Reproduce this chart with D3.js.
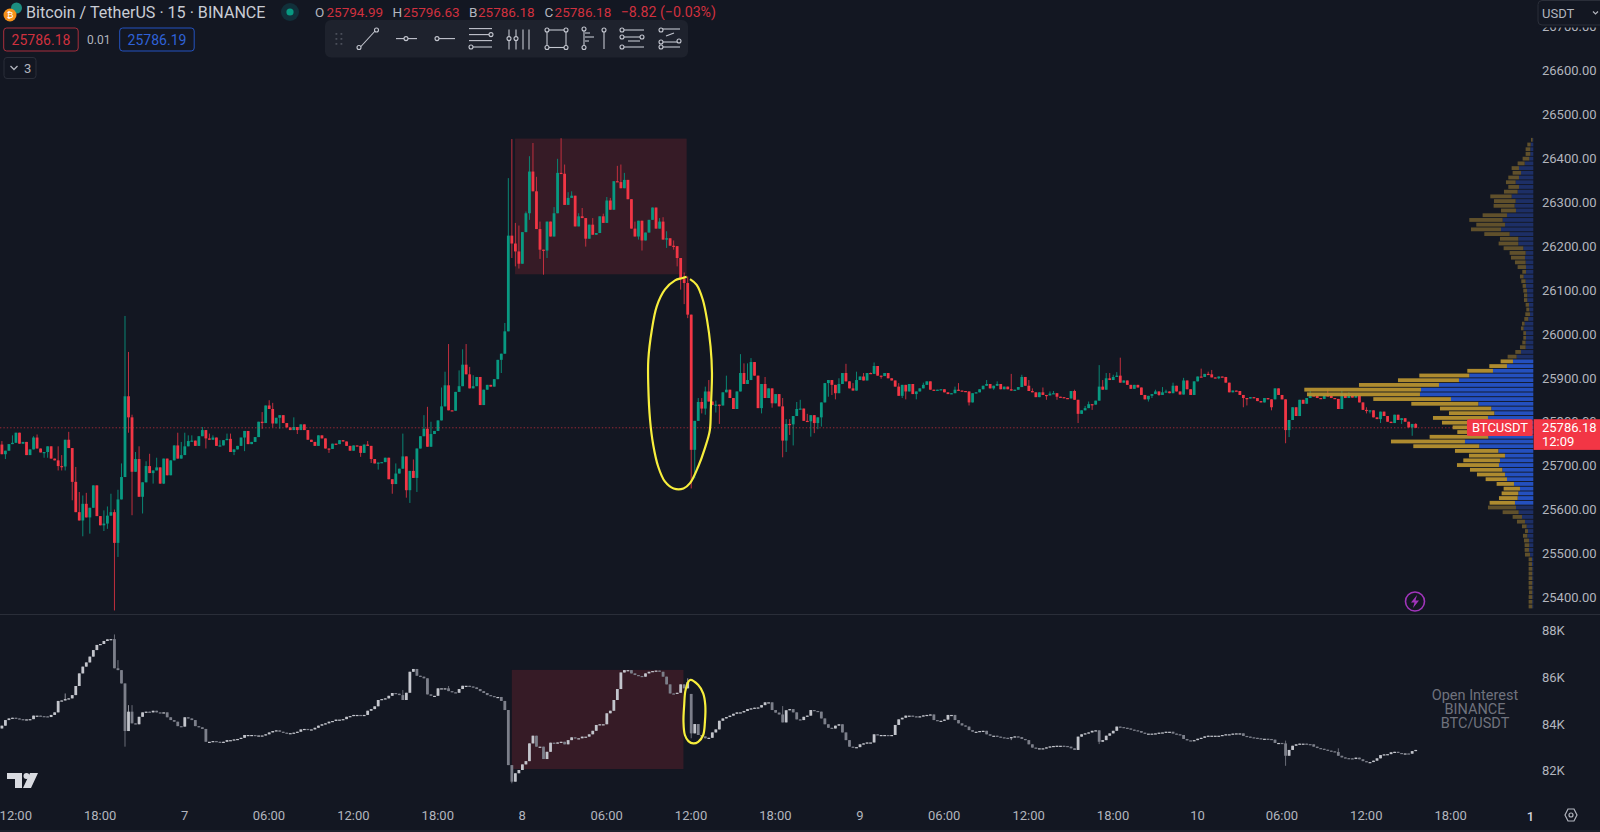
<!DOCTYPE html>
<html><head><meta charset="utf-8">
<script src="https://cdn.jsdelivr.net/npm/d3@7/dist/d3.min.js"></script>
<style>html,body{margin:0;padding:0;background:#131722;overflow:hidden}svg{display:block}text{font-family:Roboto,"Liberation Sans",sans-serif}</style>
</head><body><svg id="c" width="1600" height="832"></svg>
<script>
// ---------- price series (15m candles, open = previous close unless listed) ----------
const firstOpen = 25748;
const openGaps = [[362,25851]];
const closes = [
25726,25734,25749,25752,25775,25750,25754,25724,25737,25764,25739,25730,25731,25744,25716,25712,25699,25698,25759,25740,
25663,25594,25575,25613,25582,25604,25655,25585,25564,25568,25586,25594,25524,25623,25674,25858,25810,25686,25715,25629,
25662,25699,25683,25689,25696,25659,25716,25678,25712,25746,25716,25724,25744,25756,25757,25745,25767,25781,25762,25759,
25764,25745,25746,25758,25761,25731,25737,25745,25764,25779,25749,25754,25765,25800,25797,25837,25829,25796,25809,25815,
25797,25787,25781,25788,25781,25794,25781,25759,25754,25745,25769,25762,25739,25738,25750,25749,25758,25755,25745,25734,
25746,25745,25729,25748,25745,25715,25705,25707,25708,25718,25669,25658,25682,25693,25721,25644,25688,25672,25739,25767,
25784,25743,25772,25779,25803,25835,25883,25826,25825,25868,25881,25930,25908,25876,25881,25902,25838,25873,25884,25880,
25897,25941,25955,26006,26224,26206,26188,26160,26232,26275,26370,26325,26239,26192,26190,26256,26222,26275,26367,26365,
26294,26310,26315,26245,26268,26264,26217,26249,26226,26230,26268,26253,26304,26283,26348,26346,26332,26351,26307,26240,
26222,26258,26213,26231,26260,26288,26240,26256,26215,26218,26201,26200,26173,26125,26116,26044,25736,25802,25845,25830,
25869,25846,25838,25839,25837,25867,25873,25854,25829,25869,25911,25886,25895,25936,25905,25831,25886,25854,25876,25842,
25863,25835,25757,25795,25794,25813,25829,25830,25802,25801,25815,25797,25810,25844,25888,25895,25884,25865,25886,25911,
25892,25876,25871,25895,25903,25894,25911,25909,25927,25905,25904,25911,25899,25894,25880,25859,25884,25869,25886,25863,
25869,25876,25884,25892,25873,25871,25873,25874,25867,25863,25865,25873,25871,25870,25869,25844,25865,25867,25874,25882,
25886,25876,25882,25886,25874,25880,25874,25871,25873,25879,25902,25882,25870,25867,25856,25867,25861,25860,25864,25865,
25857,25856,25854,25853,25870,25850,25818,25826,25831,25840,25839,25848,25880,25873,25899,25895,25902,25905,25889,25894,
25884,25875,25884,25878,25861,25851,25859,25863,25869,25861,25867,25869,25865,25882,25869,25862,25894,25874,25861,25892,
25903,25902,25909,25908,25901,25899,25903,25902,25889,25867,25871,25870,25861,25854,25853,25856,25854,25847,25844,25854,
25851,25833,25876,25861,25851,25781,25804,25833,25813,25850,25841,25854,25860,25859,25854,25852,25860,25859,25854,25852,
25829,25864,25854,25860,25855,25860,25844,25827,25826,25826,25810,25806,25823,25813,25800,25797,25816,25804,25808,25800,
25787,25794.99,25786.18];
// upper wicks: [bar, high]
const highs = [[0,25756],[3,25769],[9,25767],[10,25771],[16,25744],[17,25724],[19,25777],[21,25697],[22,25640],[23,25632],[24,25638],[29,25598],[30,25607],[31,25636],[32,25600],[33,25645],[34,25705],[35,26041],[36,25959],[37,25816],[38,25731],[39,25744],[41,25710],[42,25727],[44,25718],[50,25775],[51,25754],[52,25775],[53,25769],[54,25769],[57,25788],[59,25773],[60,25769],[62,25758],[64,25773],[65,25773],[74,25822],[76,25849],[77,25843],[83,25810],[104,25756],[112,25705],[114,25773],[117,25714],[120,25815],[121,25834],[122,25800],[125,25878],[126,25914],[127,25977],[130,25917],[131,25965],[132,25977],[133,25925],[134,25906],
[143,26025],[144,26355],[145,26444],[146,26253],[147,26247],[149,26279],[150,26405],[151,26435],[152,26358],[153,26256],[157,26289],[158,26399],[159,26446],[160,26386],[161,26323],[162,26325],[164,26275],[165,26287],[168,26264],[171,26274],[172,26312],[173,26310],[175,26383],[176,26386],[177,26367],[180,26256],[187,26264],[188,26266],[189,26234],[191,26213],[194,26140],[195,26131],[198,25854],[199,25854],[200,25880],[201,25895],[203,25848],[206,25905],[210,25954],[211,25933],[212,25933],[213,25945],
[217,25902],[222,25854],[223,25806],[224,25806],[226,25845],[227,25850],[229,25818],[238,25899],[240,25932],[242,25888],[243,25914],[245,25911],[247,25912],[248,25935],[255,25888],[262,25889],[271,25880],[272,25888],[280,25895],[283,25892],[287,25909],[290,25907],[292,25895],[293,25876],[296,25878],[298,25869],[299,25870],[305,25873],[308,25836],[309,25846],[312,25929],[313,25895],[314,25911],[315,25911],[316,25907],[317,25913],[318,25946],[328,25873],[330,25879],[331,25873],[333,25889],[336,25900],[341,25921],[343,25914],[344,25918],[372,25870],[377,25874],[381,25871],[383,25867],[388,25833],[402,25796.63]];
// lower wicks: [bar, low]
const lows = [[1,25715],[12,25718],[13,25718],[16,25689],[17,25689],[18,25689],[20,25621],[23,25539],[25,25545],[29,25551],[30,25556],[32,25370],[33,25492],[34,25653],[36,25775],[37,25587],[40,25591],[43,25659],[46,25658],[58,25739],[66,25724],[69,25733],[74,25784],[77,25787],[79,25784],[84,25772],[93,25729],[102,25720],[105,25706],[107,25691],[111,25636],[115,25627],[116,25615],[118,25640],
[137,25838],[142,25911],[145,26173],[146,26154],[147,26149],[150,26260],[153,26171],[154,26135],[155,26173],[166,26199],[181,26215],[182,26190],[189,26196],[191,26192],[192,26154],[193,26101],[194,26068],[195,26036],[196,25648],[197,25671],[199,25819],[200,25816],[203,25821],[204,25795],
[216,25819],[219,25832],[222,25719],[223,25731],[224,25770],[225,25746],[230,25766],[231,25774],[232,25783],[233,25789],[235,25857],[236,25861],[237,25851],[250,25898],[256,25854],[257,25851],[260,25851],[275,25837],[282,25873],[297,25850],[300,25850],[306,25797],[310,25827],[326,25846],[327,25854],[329,25859],[346,25897],[353,25833],[354,25837],[361,25826],[365,25751],[366,25765],[388,25819],[389,25819],[392,25797],[398,25795],[401,25768]];

// ---------- open interest series (thousands) ----------
const oiFirstOpen = 83.81;
const oiOpenGaps = [[196,85.29]];
const oiCloses = [
83.93,84.17,84.24,84.27,84.24,84.21,84.19,84.20,84.21,84.36,84.36,84.34,84.33,84.30,84.39,84.50,84.99,85.01,85.07,85.10,
85.24,85.63,86.17,86.46,86.64,86.89,87.17,87.39,87.43,87.56,87.63,87.64,86.39,86.31,85.74,83.70,84.53,84.03,83.99,84.31,
84.50,84.53,84.50,84.57,84.50,84.49,84.50,84.29,84.17,84.10,83.91,83.89,84.29,84.24,84.17,83.91,83.86,83.79,83.24,83.24,
83.27,83.24,83.19,83.24,83.31,83.31,83.34,83.36,83.41,83.53,83.53,83.53,83.51,83.51,83.51,83.56,83.64,83.70,83.73,83.67,
83.63,83.61,83.61,83.63,83.67,83.77,83.79,83.76,83.77,83.84,83.93,83.99,84.03,84.10,84.13,84.19,84.19,84.21,84.31,84.34,
84.39,84.39,84.36,84.39,84.57,84.64,84.76,85.03,85.07,85.10,85.21,85.33,85.30,85.24,85.03,85.34,86.24,86.36,86.07,86.03,
85.96,85.27,85.21,85.21,85.53,85.53,85.53,85.41,85.36,85.34,85.50,85.64,85.64,85.61,85.57,85.50,85.41,85.33,85.24,85.20,
85.16,85.16,84.99,84.60,82.24,81.53,81.89,82.03,82.27,82.41,83.17,83.50,83.03,83.03,82.50,82.81,83.20,83.17,83.21,83.24,
83.13,83.31,83.43,83.39,83.39,83.46,83.46,83.56,83.71,83.96,83.99,83.99,84.46,84.57,85.03,85.50,86.21,86.31,86.31,86.17,
86.10,86.06,86.03,86.17,86.24,86.27,86.29,86.24,86.03,85.70,85.31,85.29,85.34,85.70,85.53,85.79,83.60,84.00,83.53,83.47,
83.39,83.41,83.64,83.77,84.14,84.24,84.30,84.36,84.44,84.50,84.50,84.56,84.64,84.67,84.70,84.71,84.81,84.93,84.93,84.60,
84.49,84.41,84.07,84.59,84.64,84.50,84.20,84.17,84.31,84.36,84.60,84.56,84.53,84.24,83.99,83.84,83.81,83.93,83.99,83.64,
83.31,83.03,83.00,83.01,83.13,83.17,83.21,83.21,83.56,83.53,83.53,83.53,83.51,83.53,83.96,84.20,84.27,84.36,84.36,84.33,
84.30,84.33,84.37,84.39,84.41,84.17,84.14,84.14,84.19,84.39,84.39,84.17,84.03,83.94,83.89,83.74,83.67,83.67,83.70,83.71,
83.56,83.50,83.50,83.46,83.43,83.41,83.40,83.44,83.47,83.44,83.36,83.31,83.13,82.99,82.96,82.96,82.96,83.00,83.04,83.06,
83.07,83.07,83.06,83.03,82.96,82.89,83.46,83.56,83.60,83.64,83.71,83.73,83.24,83.31,83.50,83.60,83.71,83.89,83.87,83.84,
83.81,83.76,83.73,83.70,83.63,83.59,83.59,83.59,83.60,83.63,83.64,83.67,83.67,83.59,83.56,83.53,83.36,83.30,83.29,83.31,
83.37,83.41,83.47,83.50,83.50,83.50,83.50,83.53,83.56,83.56,83.59,83.60,83.60,83.49,83.46,83.43,83.41,83.39,83.37,83.37,
83.36,83.33,83.19,83.19,83.17,82.64,82.89,83.07,83.13,83.16,83.16,83.14,83.13,83.03,82.97,82.94,82.90,82.86,82.83,82.80,
82.64,82.57,82.54,82.53,82.50,82.56,82.49,82.41,82.37,82.37,82.43,82.53,82.67,82.70,82.71,82.79,82.81,82.76,82.74,82.74,
82.73,82.84,82.89];
const oiHighs = [[18,85.31],[32,87.84],[33,86.74],[36,84.81],[37,84.81],[114,85.46],[127,85.63],[195,85.96],[222,84.77],[365,83.29],[380,82.96]];
const oiLows = [[35,83.03],[145,81.46],[196,83.39],[287,83.31],[312,83.14],[365,82.21]];

// ---------- visible-range volume profile, rows top to bottom ----------
const vpTopPrice = 26442, vpRowStep = 10.74, vpAreaFirst = 47, vpAreaLast = 77;
const vpBuy = [2,8,9,9,12,26,43,37,43,53,43,47,65,53,56,52,79,92,85,97,71,45,45,30,23,25,23,22,22,29,23,22,19,18,18,13,12,10,15,26,29,22,22,23,23,37,50,61,79,121,192,223,283,337,340,247,165,126,117,136,125,120,115,135,205,162,105,85,100,103,93,85,79,58,40,45,47,55,52,44,34,25,20,16,18,13,12,13,10,4,4,3,3,3,3,3,3,3,3,3];
const vpSell = [5,10,14,14,20,21,22,25,32,29,32,41,64,65,63,45,73,100,86,90,76,55,59,59,48,42,32,25,11,11,13,10,11,10,10,10,9,14,12,8,8,8,8,10,17,17,27,37,53,77,150,183,240,350,339,233,201,154,136,165,149,122,113,176,222,198,130,108,110,126,97,84,64,52,49,50,56,76,84,48,28,24,14,9,13,15,14,13,15,10,10,11,11,11,11,11,10,11,11,11];

// ---------- axes ----------
const priceTicks = d3.range(25400, 26800, 100);
const oiTicks = [82,84,86,88];
const timeLabels = ["12:00","18:00","7","06:00","12:00","18:00","8","06:00","12:00","18:00","9","06:00","12:00","18:00","10","06:00","12:00","18:00"];
const timeTickBars = timeLabels.map((_,k)=>4+k*24);

// ---------- annotations (bar index, value) ----------
const priceBox = {b0:145.9,b1:194.7,top:26445,bottom:26136};
const oiBox = {b0:145.0,b1:193.8,top:86.32,bottom:82.07};
const priceLoop = [[195.66,26125],[197.55,26112],[199.3,26078],[200.5,26032],[201.5,25971],[201.9,25911],[201.6,25835],[201.3,25781],[199.9,25740],[198,25698],[195.66,25660],[193.8,25648],[191,25648],[188.5,25664],[186.6,25698],[185.2,25747],[184.3,25804],[183.8,25880],[183.8,25941],[184.8,26009],[186.2,26063],[188.5,26101],[191.4,26122],[193.3,26127],[194.7,26130]];
const oiLoop = [[195.66,85.89],[198,85.67],[199.4,85.31],[200,84.81],[199.9,84.10],[199.4,83.53],[198,83.24],[196.6,83.17],[195.2,83.27],[194.2,83.53],[193.8,84.10],[194,84.81],[194.4,85.46]];

const BG="#131722", UP="#089981", DOWN="#f23645", TXT="#b2b5be";
const svg=d3.select("#c");
svg.append("rect").attr("width",1600).attr("height",832).attr("fill",BG);
svg.append("rect").attr("y",830).attr("width",1600).attr("height",2).attr("fill","#1e222d");
svg.append("rect").attr("y",614).attr("width",1600).attr("height",1).attr("fill","#2a2e39");

const x=d3.scaleLinear().domain([0,402]).range([1.9,1415.7]);
const y=d3.scaleLinear().domain([25400,26600]).range([597.3,70.6]);
const yOI=d3.scaleLinear().domain([82,88]).range([770.7,630.7]);

function box(b,ys,fill){svg.append("rect").attr("x",x(b.b0)).attr("width",x(b.b1)-x(b.b0))
  .attr("y",ys(b.top)).attr("height",ys(b.bottom)-ys(b.top)).attr("fill",fill);}
box(priceBox,y,"#361b26"); box(oiBox,yOI,"#361b26");

function candles(cl,first,gaps,hi,lo,ys,upBody,dnBody,upWick,dnWick){
  const H=new Map(hi),L=new Map(lo),G=new Map(gaps);
  const d=cl.map((c,i)=>{const o=G.get(i)??(i?cl[i-1]:first);return {i,o,c,h:Math.max(o,c,H.get(i)??-Infinity),l:Math.min(o,c,L.get(i)??Infinity)};});
  const g=svg.append("g");
  g.selectAll(".w").data(d).join("rect").attr("x",e=>x(e.i)-.5).attr("width",1)
    .attr("y",e=>ys(e.h)).attr("height",e=>Math.max(0,ys(e.l)-ys(e.h)))
    .attr("fill",e=>e.c>=e.o?upWick:dnWick);
  g.selectAll(".b").data(d).join("rect").attr("x",e=>x(e.i)-1.4).attr("width",2.8)
    .attr("y",e=>Math.min(ys(e.o),ys(e.c))).attr("height",e=>Math.max(1.2,Math.abs(ys(e.o)-ys(e.c))))
    .attr("fill",e=>e.c>=e.o?upBody:dnBody);
}
candles(closes,firstOpen,openGaps,highs,lows,y,UP,DOWN,"#0a8573","#c02f3e");
candles(oiCloses,oiFirstOpen,oiOpenGaps,oiHighs,oiLows,yOI,"#c3c5cc","#7c7f8a","#8f919b","#696c77");

// last price line
const last=closes[closes.length-1];
svg.append("line").attr("x1",0).attr("x2",1467).attr("y1",y(last)).attr("y2",y(last))
  .attr("stroke","#f23645").attr("stroke-opacity",.6).attr("stroke-dasharray","1.4 2");

// volume profile
const vx=d3.scaleLinear().domain([0,687]).range([1533.3,1304.3]);
const vg=svg.append("g");
const rowH=Math.abs(y(vpTopPrice)-y(vpTopPrice-vpRowStep));
vpBuy.forEach((b,k)=>{
  const p=vpTopPrice-k*vpRowStep, s=vpSell[k], inArea=k>=vpAreaFirst&&k<=vpAreaLast;
  const yy=y(p)-rowH/2+.3,h=rowH-.9;
  vg.append("rect").attr("x",vx(b)).attr("width",vx(0)-vx(b)).attr("y",yy).attr("height",h)
    .attr("fill",inArea?"#2450bf":"#1d2f66");
  vg.append("rect").attr("x",vx(b+s)).attr("width",vx(b)-vx(b+s)).attr("y",yy).attr("height",h)
    .attr("fill",inArea?"#ba9430":"#66552c").attr("fill-opacity",.93);
});

// hand-drawn loops
const lineP=d3.line().x(d=>x(d[0])).y(d=>y(d[1])).curve(d3.curveCatmullRom);
const lineO=d3.line().x(d=>x(d[0])).y(d=>yOI(d[1])).curve(d3.curveCatmullRomClosed);
svg.append("path").attr("d",lineP(priceLoop)).attr("fill","none").attr("stroke","#f7ee3c").attr("stroke-width",2.2);
svg.append("path").attr("d",lineO(oiLoop)).attr("fill","none").attr("stroke","#f7ee3c").attr("stroke-width",2.2);

// axes
function clean(g){g.select(".domain").remove();g.selectAll("line").remove();
  g.selectAll("text").attr("fill",TXT).attr("font-size",13).attr("font-family","Roboto");}
svg.append("g").attr("transform","translate(1542,0)")
  .call(d3.axisRight(y).tickValues(priceTicks).tickSize(0).tickPadding(0).tickFormat(d3.format(".2f"))).call(clean);
svg.append("g").attr("transform","translate(1542,0)")
  .call(d3.axisRight(yOI).tickValues(oiTicks).tickSize(0).tickPadding(0).tickFormat(d=>d+"K")).call(clean);
svg.append("g").attr("transform","translate(-0.7,811)")
  .call(d3.axisBottom(x).tickValues(timeTickBars).tickSize(0).tickPadding(0).tickFormat((d,i)=>timeLabels[i])).call(clean);

// last-price labels
svg.append("rect").attr("x",1467).attr("y",y(last)-8.6).attr("width",65.7).attr("height",16.7).attr("rx",1.5).attr("fill","#f23645");
svg.append("rect").attr("x",1533.7).attr("y",y(last)-8.6).attr("width",66.3).attr("height",30.7).attr("fill","#f23645");
const T=(s,xx,yy,o={})=>svg.append("text").attr("x",xx).attr("y",yy).attr("dy",".35em").text(s)
  .attr("font-size",o.fs||13).attr("fill",o.c||TXT).attr("text-anchor",o.a||"start").attr("font-weight",o.w||400);
T("BTCUSDT",1500,y(last)-.8,{c:"#fff",a:"middle"});
T(d3.format(".2f")(last),1542,y(last)-.8,{c:"#fff"});
T("12:09",1542,441,{c:"#fff"});

// open interest label
["Open Interest","BINANCE","BTC/USDT"].forEach((s,i)=>T(s,1475,695+14*i,{fs:14.5,c:"#6f727d",a:"middle"}));

// USDT box, masks the top tick down to a sliver
svg.append("rect").attr("x",1536).attr("y",0).attr("width",64).attr("height",27.5).attr("fill",BG);
svg.append("rect").attr("x",1538).attr("y",.5).attr("width",70).attr("height",24.5).attr("rx",4).attr("fill",BG).attr("stroke","#2a2e39");
T("USDT",1542,13,{});
svg.append("path").attr("d","M1593 11.5l2.5 2.5 2.5-2.5").attr("fill","none").attr("stroke",TXT).attr("stroke-width",1.2);

// header
svg.append("circle").attr("cx",16.5).attr("cy",8).attr("r",5.5).attr("fill","#1c8d80");
svg.append("circle").attr("cx",10).attr("cy",15).attr("r",6.5).attr("fill","#f6921a");
T("₿",10,15,{fs:9,c:"#fff",a:"middle"});
T("Bitcoin / TetherUS · 15 · BINANCE",26,12.5,{fs:16.1,c:"#c9ccd4"});
svg.append("circle").attr("cx",290).attr("cy",12).attr("r",9).attr("fill","#11303a");
svg.append("circle").attr("cx",290).attr("cy",12).attr("r",3.6).attr("fill","#089981");
const RED="#d0313f";
[["O",315,"25794.99",326.5],["H",392.5,"25796.63",403],["B",469,"25786.18",478],["C",544.5,"25786.18",554.6]].forEach(r=>{
  T(r[0],r[1],12.5,{fs:13.5}); T(r[2],r[3],12.5,{fs:13.5,c:RED});
});
T("−8.82 (−0.03%)",620.7,12.5,{fs:14.2,c:RED});

// order buttons
svg.append("rect").attr("x",3.7).attr("y",28).attr("width",74.5).attr("height",23).attr("rx",3).attr("fill","none").attr("stroke","#a92f3c");
T("25786.18",41,40,{fs:14,c:RED,a:"middle"});
T("0.01",98.7,40,{fs:12,a:"middle"});
svg.append("rect").attr("x",119.7).attr("y",28).attr("width",74.5).attr("height",23).attr("rx",3).attr("fill","none").attr("stroke","#2453c0");
T("25786.19",157,40,{fs:14,c:"#2f62d8",a:"middle"});
svg.append("rect").attr("x",4).attr("y",57.5).attr("width",32).attr("height",21).attr("rx",3).attr("fill","none").attr("stroke","#2a2e39");
svg.append("path").attr("d","M10.5 66l3.5 3.5 3.5-3.5").attr("fill","none").attr("stroke",TXT).attr("stroke-width",1.3);
T("3",24,68,{});

// drawing toolbar
svg.append("rect").attr("x",325).attr("y",20).attr("width",363).attr("height",37.5).attr("rx",6).attr("fill","#1e222d");
const tb=svg.append("g").attr("fill","none").attr("stroke","#c4c7d0").attr("stroke-width",1.1);
const L=(a,b,c,d)=>tb.append("line").attr("x1",a).attr("y1",b).attr("x2",c).attr("y2",d);
const C=(a,b,r=2)=>tb.append("circle").attr("cx",a).attr("cy",b).attr("r",r).attr("fill","#1e222d");
d3.range(0,3).forEach(r=>[0,1].forEach(k=>svg.append("rect").attr("x",335.5+k*5).attr("y",33+r*5).attr("width",1.8).attr("height",1.8).attr("fill","#4a4e59")));
const cy=38.6;
L(360,47.5,376,30);C(359,47.5);C(376.5,30);
L(396,cy,417,cy);C(406,cy);
L(435,cy,455,cy);C(437,cy);
[-10,-4,2,8.4].forEach(d=>L(469,cy+d,492,cy+d));C(491,cy-4);C(471,cy+8.4);
[509,516,523,529].forEach(a=>L(a,29.5,a,49.5));C(509,cy);C(516,cy);
L(547,30,566,30);L(547,47.5,566,47.5);L(547,30,547,47.5);L(566,30,566,47.5);[[547,30],[566,30],[547,47.5],[566,47.5]].forEach(p=>C(p[0],p[1]));
L(584,30,584,46);C(584,47.5);C(584,29);L(585,33,590,33);L(585,37,594,37);L(585,41,589,41);L(604,32,604,49);C(604,30);
L(622,30,644,30);L(622,37,644,37);L(622,47,644,47);L(628,41,640,41);C(622,30);C(642,37);C(622,37);C(622,47);
L(660,29,680,29);L(660,42,680,42);L(660,47,680,47);L(666,36,674,33);C(661,30);C(661,42);C(679,41);C(661,47);

// TV logo
svg.append("path").attr("fill","#d9dbe1").attr("d","M7 773h15v15h-7v-9H7z M30 773h8l-7 15h-8z");
svg.append("circle").attr("cx",26.5).attr("cy",776).attr("r",3).attr("fill","#d9dbe1");

// lightning badge
svg.append("circle").attr("cx",1415).attr("cy",601.5).attr("r",9.5).attr("fill","none").attr("stroke","#a135bb").attr("stroke-width",1.6);
svg.append("path").attr("d","M1417 595l-6 7.5h3.5l-1.5 5.5 6-7.5h-3.5z").attr("fill","#a135bb");

// bottom right
T("1",1530.5,816,{a:"middle",w:500,c:"#d1d4dc"});
svg.append("path").attr("d","M1565 815l3-6h6l3 6-3 6h-6z").attr("fill","none").attr("stroke",TXT).attr("stroke-width",1.2);
svg.append("circle").attr("cx",1571).attr("cy",815).attr("r",2).attr("fill","none").attr("stroke",TXT).attr("stroke-width",1.2);
</script></body></html>
